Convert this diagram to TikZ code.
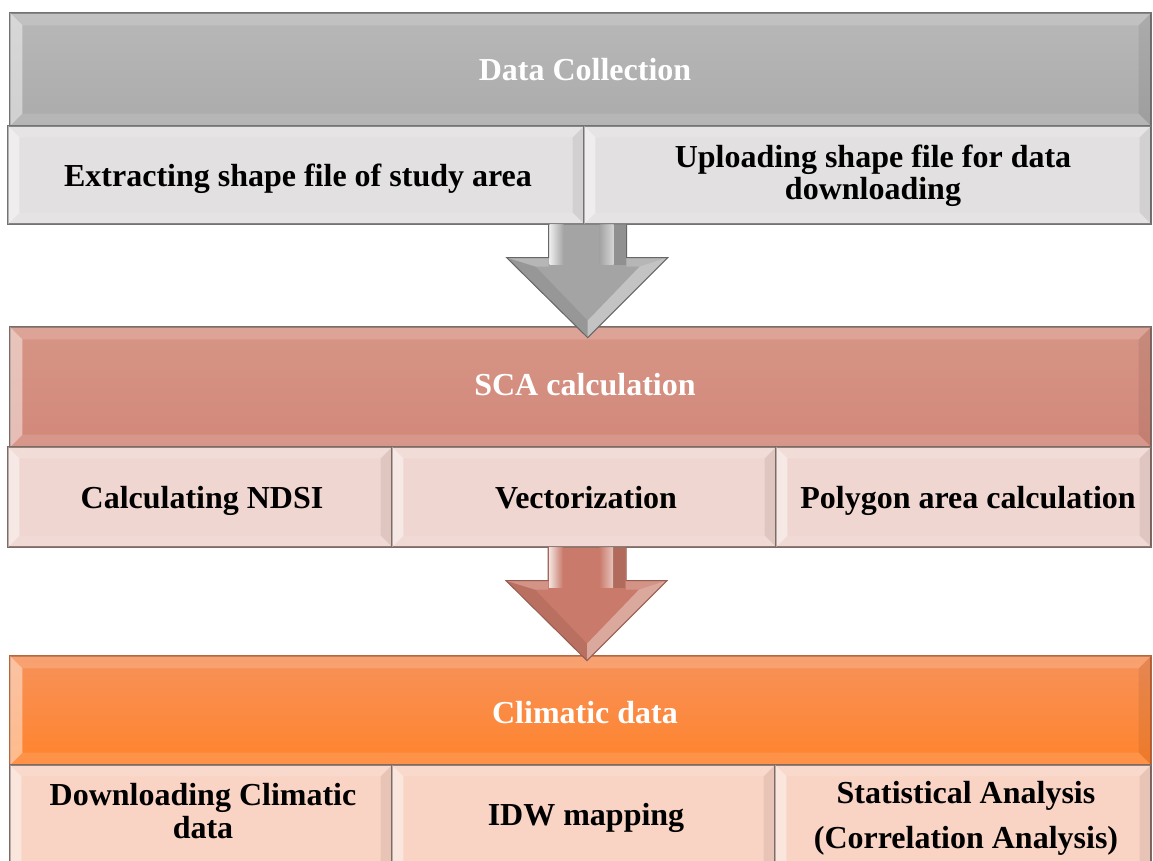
\documentclass[tikz,border=0pt]{standalone}
\usepackage{fontspec}
\setmainfont{Liberation Serif}
\usetikzlibrary{calc}
\definecolor{gtop}{HTML}{B8B8B8}
\definecolor{gbot}{HTML}{ABABAB}
\definecolor{gsub}{HTML}{E2E0E0}
\definecolor{gline}{HTML}{737373}
\definecolor{stop}{HTML}{D69585}
\definecolor{sbot}{HTML}{D2887A}
\definecolor{ssub}{HTML}{F0D6D0}
\definecolor{sline}{HTML}{806A64}
\definecolor{otop}{HTML}{F7925A}
\definecolor{obot}{HTML}{FF832C}
\definecolor{osub}{HTML}{F9D3C3}
\definecolor{oline}{HTML}{B8663A}
\definecolor{arrg}{HTML}{A4A4A4}
\definecolor{arrs}{HTML}{C97A6A}
\tikzset{
  box/.style={rectangle, inner sep=0pt, align=center, line width=1.3pt},
  txt/.style={inner sep=0pt, align=center, anchor=base,
    font=\bfseries\fontsize{32}{32}\selectfont},
  head/.style={txt, text=white},
  sub/.style={txt, text=black},
}
% bevel overlay on a named node, #2 = inset, #3 = border colour
\newcommand\bevelfx[3]{%
  \fill[white,opacity=.45] (#1.north west) -- (#1.south west) -- ($(#1.south west)+(#2pt,#2pt)$) -- ($(#1.north west)+(#2pt,-#2pt)$) -- cycle;
  \fill[white,opacity=.15] (#1.north west) -- (#1.north east) -- ($(#1.north east)+(-#2pt,-#2pt)$) -- ($(#1.north west)+(#2pt,-#2pt)$) -- cycle;
  \fill[black,opacity=.07] (#1.north east) -- (#1.south east) -- ($(#1.south east)+(-#2pt,#2pt)$) -- ($(#1.north east)+(-#2pt,-#2pt)$) -- cycle;
  \fill[white,opacity=.12] (#1.south west) -- (#1.south east) -- ($(#1.south east)+(-#2pt,#2pt)$) -- ($(#1.south west)+(#2pt,#2pt)$) -- cycle;
  \draw[#3,line width=1.3pt] (#1.north west) rectangle (#1.south east);
}
% block arrow below named coordinate #1 (top centre of shaft), fill #2, edge #3
\newcommand\blockarrow[3]{%
  \fill[#2] ($(#1)+(-39,0)$) -- ($(#1)+(39,0)$) -- ($(#1)+(39,-33)$) -- ($(#1)+(80,-33)$) -- ($(#1)+(0,-113)$) -- ($(#1)+(-81,-33)$) -- ($(#1)+(-39,-33)$) -- cycle;
  \shade[left color=white, right color=#2, opacity=.8] ($(#1)+(-38,0)$) rectangle ($(#1)+(-24,-40)$);
  \shade[left color=#2, right color=white, opacity=.55] ($(#1)+(12,0)$) rectangle ($(#1)+(26,-40)$);
  \fill[black,opacity=.12] ($(#1)+(26,0)$) rectangle ($(#1)+(38,-40)$);
  \fill[black,opacity=.08] ($(#1)+(-81,-33)$) -- ($(#1)+(0,-113)$) -- ($(#1)+(0,-96)$) -- ($(#1)+(-52,-42)$) -- cycle;
  \fill[white,opacity=.35] ($(#1)+(80,-33)$) -- ($(#1)+(0,-113)$) -- ($(#1)+(0,-96)$) -- ($(#1)+(52,-42)$) -- cycle;
  \fill[white,opacity=.2] ($(#1)+(-81,-33)$) -- ($(#1)+(-39,-33)$) -- ($(#1)+(-39,-42)$) -- ($(#1)+(-52,-42)$) -- cycle;
  \fill[white,opacity=.2] ($(#1)+(80,-33)$) -- ($(#1)+(39,-33)$) -- ($(#1)+(39,-42)$) -- ($(#1)+(52,-42)$) -- cycle;
  \draw[#3,line width=1pt] ($(#1)+(-39,0)$) -- ($(#1)+(-39,-33)$) -- ($(#1)+(-81,-33)$) -- ($(#1)+(0,-113)$) -- ($(#1)+(80,-33)$) -- ($(#1)+(39,-33)$) -- ($(#1)+(39,0)$);
}
\begin{document}
\begin{tikzpicture}[x=1pt,y=1pt]
\clip (0,0) rectangle (1153,-861);
\fill[white] (0,0) rectangle (1153,-861);

% ---- band 1
\node[box, top color=gtop, bottom color=gbot, draw=gline, minimum width=1141pt, minimum height=113pt] (h1) at (580.5,-69.5) {};
\bevelfx{h1}{13}{gline}
\node[head] (h1t) at (585,-81) {Data Collection};
\node[box, fill=gsub, draw=gline, minimum width=576pt, minimum height=98pt] (e1) at (296,-175) {};
\bevelfx{e1}{12}{gline}
\node[sub] (e1t) at (298,-186) {Extracting shape file of study area};
\node[box, fill=gsub, draw=gline, minimum width=567pt, minimum height=98pt] (e2) at (867.5,-175) {};
\bevelfx{e2}{12}{gline}
\node[sub] (e2t) at (873,-200) {Uploading shape file for data\\downloading};

% ---- band 2
\node[box, top color=stop, bottom color=sbot, draw=sline, minimum width=1141pt, minimum height=120pt] (h2) at (580.5,-387) {};
\bevelfx{h2}{13}{sline}
\node[head] (h2t) at (585,-395) {SCA calculation};
\node[box, fill=ssub, draw=sline, minimum width=384pt, minimum height=100pt] (s1) at (200,-497) {};
\bevelfx{s1}{12}{sline}
\node[sub] (s1t) at (202,-508) {Calculating NDSI};
\node[box, fill=ssub, draw=sline, minimum width=384pt, minimum height=100pt] (s2) at (584,-497) {};
\bevelfx{s2}{12}{sline}
\node[sub] (s2t) at (586,-508) {Vectorization};
\node[box, fill=ssub, draw=sline, minimum width=375pt, minimum height=100pt] (s3) at (963.5,-497) {};
\bevelfx{s3}{12}{sline}
\node[sub] (s3t) at (968,-508) {Polygon area calculation};

% ---- band 3
\node[box, top color=otop, bottom color=obot, draw=oline, minimum width=1141pt, minimum height=109pt] (h3) at (580.5,-710.5) {};
\bevelfx{h3}{13}{oline}
\node[head] (h3t) at (585,-723) {Climatic data};
\node[box, fill=osub, draw=sline, minimum width=382pt, minimum height=108pt] (c1) at (201,-819) {};
\bevelfx{c1}{12}{sline}
\node[sub] (c1t) at (203,-838) {Downloading Climatic\\[1pt]data};
\node[box, fill=osub, draw=sline, minimum width=383pt, minimum height=108pt] (c2) at (583.5,-819) {};
\bevelfx{c2}{12}{sline}
\node[sub] (c2t) at (586,-825) {IDW mapping};
\node[box, fill=osub, draw=sline, minimum width=376pt, minimum height=108pt] (c3) at (963,-819) {};
\bevelfx{c3}{12}{sline}
\node[sub] (c3t) at (966,-848) {Statistical Analysis\\[13pt](Correlation Analysis)};

% ---- block arrows
\coordinate (a1) at ($(e1.south east)+(3,0)$);
\blockarrow{a1}{arrg}{gray!80!black}
\coordinate (a2) at ($(s2.south)+(3,0)$);
\blockarrow{a2}{arrs}{arrs!75!black}
\end{tikzpicture}
\end{document}
